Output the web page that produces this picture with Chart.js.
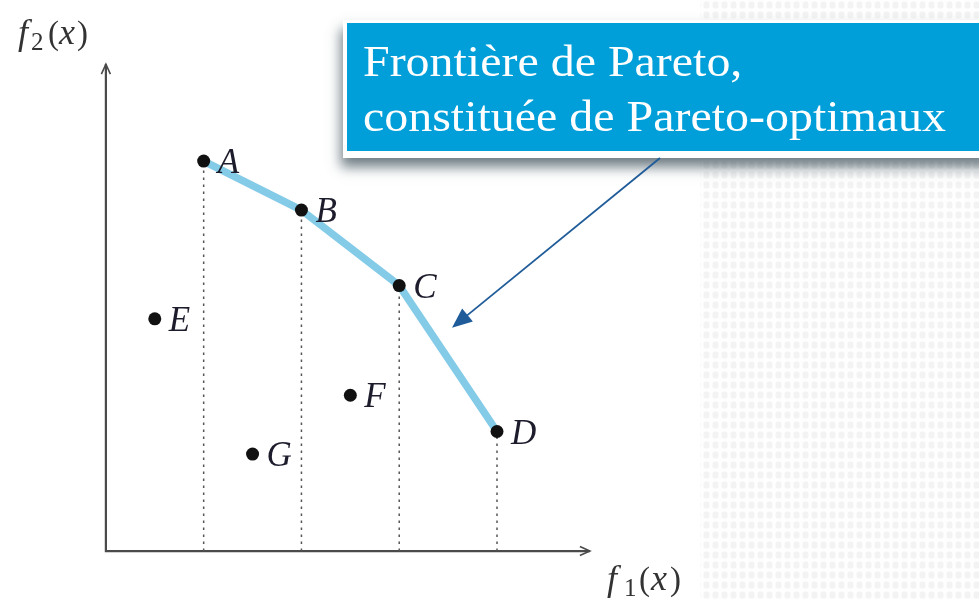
<!DOCTYPE html>
<html>
<head>
<meta charset="utf-8">
<script src="https://cdn.jsdelivr.net/npm/chart.js@4.4.1/dist/chart.umd.min.js"></script>
<style>
  html, body { margin: 0; padding: 0; background: #fff; overflow: hidden; }
  canvas { display: block; }
</style>
</head>
<body>
<canvas id="pareto" width="979" height="599"></canvas>
<script>
// ===== DATA =====
const pointNames = ["A", "B", "C", "D", "E", "F", "G"];
const f1Values = [2, 3, 4, 5, 1.5, 3.5, 2.5];
const f2Values = [3.98, 3.48, 2.71, 1.22, 2.37, 1.59, 0.99];
const frontierNames = ["A", "B", "C", "D"];
const xAxisRange = [1, 5.95];
const yAxisRange = [0, 4.97];
const arrowTip = [4.54, 2.28];
const calloutLines = ["Frontière de Pareto,", "constituée de Pareto-optimaux"];

// ===== HELPERS =====
const pts = pointNames.map((n, i) => ({ x: f1Values[i], y: f2Values[i], name: n }));
const frontier = frontierNames.map(n => pts.find(p => p.name === n));

const guideSets = frontier.map(p => ({
  data: [{ x: p.x, y: yAxisRange[0] }, { x: p.x, y: p.y }],
  showLine: true,
  borderColor: "#555",
  borderWidth: 1.5,
  borderDash: [2.5, 4.5],
  pointRadius: 0,
  order: 3
}));

function makePattern(ctx) {
  const tile = document.createElement("canvas");
  tile.width = 9; tile.height = 10;
  const t = tile.getContext("2d");
  t.fillStyle = "#fefefe";
  t.fillRect(0, 0, 9, 10);
  t.fillStyle = "#f3f3f3";
  t.beginPath();
  t.roundRect(1.5, 1.5, 6, 7, 2.5);
  t.fill();
  return ctx.createPattern(tile, "repeat");
}

function arrowHead(ctx, x, y, angle, len, half, filled) {
  ctx.save();
  ctx.translate(x, y);
  ctx.rotate(angle);
  ctx.beginPath();
  ctx.moveTo(-len, -half);
  ctx.lineTo(0, 0);
  ctx.lineTo(-len, half);
  if (filled) { ctx.closePath(); ctx.fill(); } else { ctx.stroke(); }
  ctx.restore();
}

// ===== PLUGIN: background, axes, labels, callout =====
const decor = {
  id: "decor",
  beforeDraw(chart) {
    const ctx = chart.ctx;
    ctx.save();
    ctx.fillStyle = "#fff";
    ctx.fillRect(0, 0, chart.width, chart.height);
    ctx.fillStyle = makePattern(ctx);
    ctx.fillRect(700, 0, chart.width - 700, chart.height);
    ctx.restore();
  },
  beforeDatasetsDraw(chart) {
    const ctx = chart.ctx;
    const xs = chart.scales.x, ys = chart.scales.y;
    const ox = xs.getPixelForValue(xAxisRange[0]);
    const oy = ys.getPixelForValue(yAxisRange[0]);
    const ex = xs.getPixelForValue(xAxisRange[1]);
    const ey = ys.getPixelForValue(yAxisRange[1]);
    ctx.save();
    ctx.strokeStyle = "#4a4a4a";
    ctx.lineWidth = 2.2;
    ctx.beginPath();
    ctx.moveTo(ex, oy); ctx.lineTo(ox, oy); ctx.lineTo(ox, ey);
    ctx.stroke();
    ctx.lineWidth = 1.6;
    arrowHead(ctx, ex, oy, 0, 10, 4.5, false);
    arrowHead(ctx, ox, ey, -Math.PI / 2, 10, 4.5, false);
    ctx.restore();
  },
  afterDatasetsDraw(chart) {
    const ctx = chart.ctx;
    const xs = chart.scales.x, ys = chart.scales.y;
    ctx.save();

    // point letters
    ctx.fillStyle = "#1c1c2c";
    ctx.font = "italic 35px 'Liberation Serif'";
    ctx.textBaseline = "alphabetic";
    pts.forEach(p => {
      const px = xs.getPixelForValue(p.x), py = ys.getPixelForValue(p.y);
      ctx.fillText(p.name, px + 14, py + 12);
    });

    // axis titles
    ctx.fillStyle = "#333";
    const drawGlyphs = (parts) => parts.forEach(g => {
      ctx.font = g[3];
      ctx.fillText(g[0], g[1], g[2]);
    });
    const it = "italic 36px 'Liberation Serif'";
    const rm = "33px 'Liberation Serif'";
    const sb = "25px 'Liberation Serif'";
    drawGlyphs([["f", 18, 44, it], ["2", 31, 50, sb], ["(", 48, 44, rm], ["x", 59, 44, it], [")", 77, 44, rm]]);
    drawGlyphs([["f", 607, 590, it], ["1", 624, 596, sb], ["(", 639, 590, rm], ["x", 651, 590, it], [")", 670, 590, rm]]);

    // callout box
    ctx.save();
    ctx.shadowColor = "rgba(50,70,80,0.7)";
    ctx.shadowBlur = 12;
    ctx.shadowOffsetY = 9;
    ctx.shadowOffsetX = -2;
    ctx.fillStyle = "#fff";
    ctx.fillRect(343, 20, 650, 138);
    ctx.restore();
    ctx.fillStyle = "#009fd9";
    ctx.fillRect(347, 23, 640, 128);

    ctx.fillStyle = "#fff";
    ctx.font = "45px 'Liberation Serif'";
    const w2 = ctx.measureText(calloutLines[1]).width;
    const sx = 583 / w2;
    ctx.save();
    ctx.translate(363, 0);
    ctx.scale(sx, 1);
    ctx.fillText(calloutLines[0], 0, 76);
    ctx.fillText(calloutLines[1], 0, 131);
    ctx.restore();

    // callout arrow
    const tx = xs.getPixelForValue(arrowTip[0]), ty = ys.getPixelForValue(arrowTip[1]);
    const sxp = 660, syp = 158;
    const ang = Math.atan2(ty - syp, tx - sxp);
    ctx.strokeStyle = "#1f5c99";
    ctx.fillStyle = "#1f5c99";
    ctx.lineWidth = 1.8;
    ctx.beginPath();
    ctx.moveTo(sxp, syp);
    ctx.lineTo(tx - 14 * Math.cos(ang), ty - 14 * Math.sin(ang));
    ctx.stroke();
    arrowHead(ctx, tx, ty, ang, 20, 8.5, true);

    ctx.restore();
  }
};

// ===== CHART =====
const ctx = document.getElementById("pareto").getContext("2d");
new Chart(ctx, {
  type: "scatter",
  data: {
    datasets: [
      {
        data: pts,
        pointRadius: 6.5,
        pointBackgroundColor: "#111",
        pointBorderWidth: 0,
        showLine: false,
        order: 1
      },
      {
        data: frontier,
        showLine: true,
        borderColor: "#84cbe8",
        borderWidth: 7.5,
        borderCapStyle: "round",
        borderJoinStyle: "round",
        pointRadius: 0,
        order: 2
      },
      ...guideSets
    ]
  },
  options: {
    responsive: false,
    animation: false,
    events: [],
    layout: { padding: { left: 57, right: 42, top: 12, bottom: 0 } },
    plugins: { legend: { display: false }, tooltip: { enabled: false } },
    scales: {
      x: { type: "linear", min: 0.5, max: 9.5, display: false },
      y: { type: "linear", min: -0.423, max: 5.502, display: false }
    }
  },
  plugins: [decor]
});
</script>
</body>
</html>
